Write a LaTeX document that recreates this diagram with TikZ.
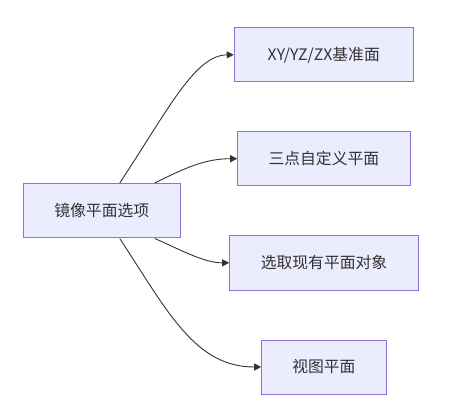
\documentclass[tikz,border=0pt]{standalone}
\usepackage{fontspec}
\setmainfont{Noto Sans CJK SC}
\usetikzlibrary{arrows.meta}
\definecolor{nodefill}{HTML}{ECECFF}
\definecolor{nodeborder}{HTML}{9370DB}
\definecolor{ink}{HTML}{333333}
\begin{document}
\begin{tikzpicture}[x=1pt,y=-1pt,
  box/.style={draw=nodeborder,fill=nodefill,line width=1pt,text=ink,inner sep=0pt,font=\fontsize{15.8}{18}\selectfont},
  link/.style={draw=ink,line width=0.9pt,-{Triangle[length=7pt,width=7pt]}}]
\useasboundingbox (0,0) rectangle (469,409);
\node[box,minimum width=156.5pt,minimum height=54.5pt] (src) at (101.75,210.75) {镜像平面选项};
\node[box,minimum width=179pt,minimum height=54.3pt] (xy) at (323.75,54.85) {XY/YZ/ZX基准面};
\node[box,minimum width=172.3pt,minimum height=54pt] (three) at (323.85,158.7) {三点自定义平面};
\node[box,minimum width=188.6pt,minimum height=54.3pt] (pick) at (324,262.85) {选取现有平面对象};
\node[box,minimum width=124.3pt,minimum height=54pt] (view) at (323.85,367) {视图平面};
\draw[link] ([xshift=18pt]src.north) .. controls (168,110) and (195,55) .. (xy.west);
\draw[link] ([xshift=53pt]src.north) .. controls (185,168) and (205,158.7) .. (three.west);
\draw[link] ([xshift=53pt]src.south) .. controls (185,252) and (205,262.85) .. (pick.west);
\draw[link] ([xshift=18pt]src.south) .. controls (168,312) and (195,367) .. (view.west);
\end{tikzpicture}
\end{document}
